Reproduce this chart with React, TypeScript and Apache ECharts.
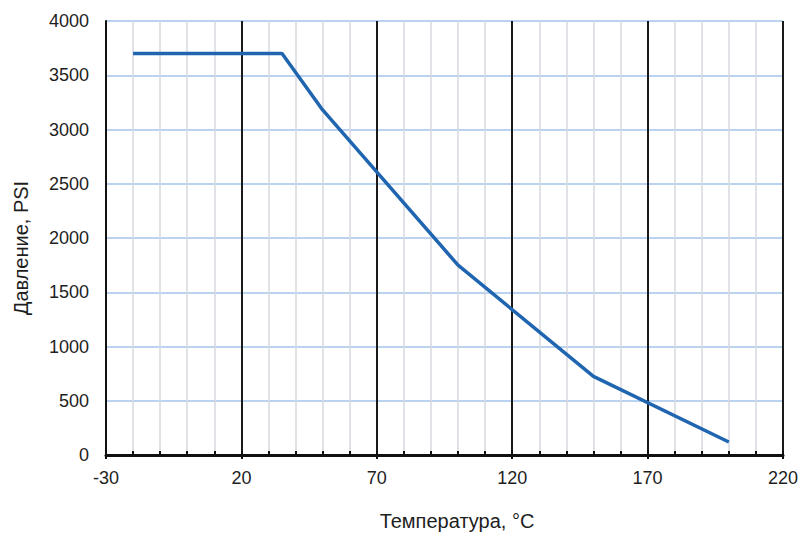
import React, { useEffect, useRef } from "react";
import * as echarts from "echarts";

const temps = [-20, 35, 50, 100, 150, 200];
const pressures = [3700, 3700, 3180, 1750, 725, 120];
const xTitle = "Температура, °C";
const yTitle = "Давление, PSI";

const FONT = "'Liberation Sans', Arial, Helvetica, sans-serif";

export default function App() {
  const ref = useRef<HTMLDivElement>(null);
  useEffect(() => {
    if (!ref.current) return;
    const chart = echarts.init(ref.current, undefined, { renderer: "svg" });
    const data = temps.map((t, i) => [t, pressures[i]]);
    chart.setOption({
      animation: false,
      backgroundColor: "#ffffff",
      textStyle: { fontFamily: FONT },
      grid: { left: 106, right: 17, top: 21, bottom: 79, containLabel: false },
      xAxis: [
        {
          type: "value",
          min: -30,
          max: 220,
          interval: 50,
          position: "bottom",
          axisLine: { show: true, onZero: false, lineStyle: { color: "#111", width: 3 } },
          axisTick: { show: true, inside: true, length: 4, lineStyle: { color: "#111", width: 2 } },
          minorTick: { show: true, splitNumber: 5, length: 4, lineStyle: { color: "#111", width: 2 } },
          axisLabel: { fontSize: 18, color: "#1e1e1e", margin: 14, fontFamily: FONT },
          splitLine: { show: true, lineStyle: { color: "#1a1a1a", width: 2 } },
          minorSplitLine: { show: true, lineStyle: { color: "#d6d9df", width: 1.5 } },
        },
        {
          type: "value",
          min: -30,
          max: 220,
          interval: 50,
          position: "bottom",
          axisLine: { show: false, onZero: false },
          axisTick: { show: true, inside: false, length: 4, lineStyle: { color: "#111", width: 2 } },
          axisLabel: { show: false },
          splitLine: { show: false },
        },
      ],
      yAxis: {
        type: "value",
        min: 0,
        max: 4000,
        interval: 500,
        axisLine: { show: true, onZero: false, lineStyle: { color: "#111", width: 2 } },
        axisTick: { show: false },
        axisLabel: {
          fontSize: 18,
          color: "#1e1e1e",
          margin: 17,
          fontFamily: FONT,
          formatter: (v: number) => String(v),
        },
        splitLine: { show: true, lineStyle: { color: "#a3c5ec", width: 1.5 } },
      },
      graphic: [
        {
          type: "text",
          x: 457,
          y: 521,
          style: {
            text: xTitle,
            fontSize: 20,
            fontFamily: FONT,
            fill: "#1e1e1e",
            align: "center",
            verticalAlign: "middle",
          },
        },
        {
          type: "text",
          x: 21,
          y: 248,
          rotation: Math.PI / 2,
          style: {
            text: yTitle,
            fontSize: 20,
            fontFamily: FONT,
            fill: "#1e1e1e",
            align: "center",
            verticalAlign: "middle",
          },
        },
      ],
      series: [
        {
          type: "line",
          xAxisIndex: 0,
          data,
          showSymbol: false,
          symbol: "none",
          lineStyle: { color: "#1f65b0", width: 3.5 },
          z: 5,
        },
      ],
    });
    return () => chart.dispose();
  }, []);
  return (
    <div
      ref={ref}
      style={{ position: "absolute", left: 0, top: 0, width: 801, height: 534 }}
    />
  );
}
